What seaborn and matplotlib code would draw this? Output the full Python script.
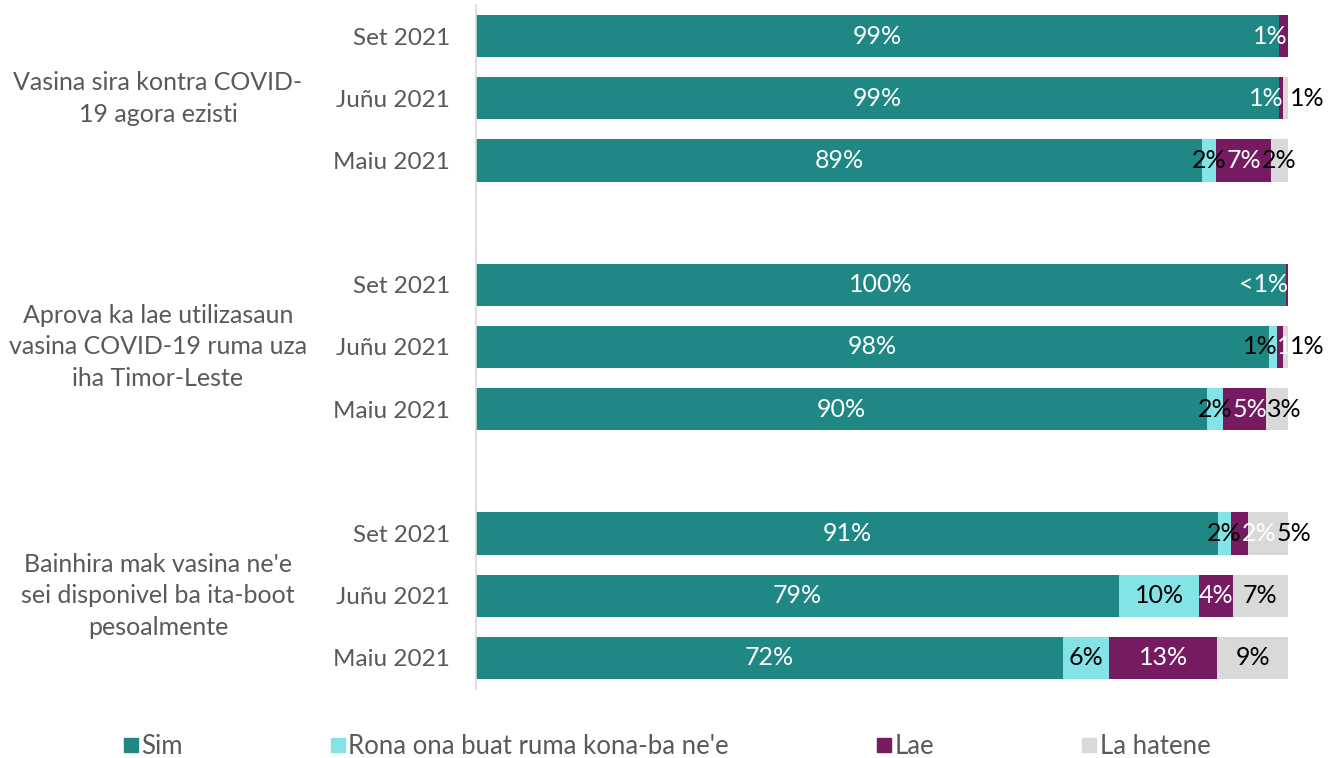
import seaborn as sns
import numpy as np
import matplotlib.pyplot as plt
import pandas as pd
from matplotlib.lines import Line2D
from matplotlib.transforms import blended_transform_factory

import warnings

warnings.filterwarnings("ignore")

# rows top to bottom, three survey rounds per question
row_labels = ["Set 2021", "Juñu 2021", "Maiu 2021"] * 3
row_pos = [0, 1, 2, 4, 5, 6, 8, 9, 10]

questions = [
    "Vasina sira kontra COVID-\n19 agora ezisti",
    "Aprova ka lae utilizasaun\nvasina COVID-19 ruma uza\niha Timor-Leste",
    "Bainhira mak vasina ne'e\nsei disponivel ba ita-boot\npesoalmente",
]

categories = ["Sim", "Rona ona buat ruma kona-ba ne'e", "Lae", "La hatene"]

sim = [98.9, 98.9, 89.4, 99.7, 97.7, 90.0, 91.4, 79.2, 72.3]
rona = [0.0, 0.0, 1.7, 0.0, 1.0, 2.0, 1.6, 9.9, 5.7]
lae = [1.1, 0.5, 6.8, 0.3, 0.7, 5.3, 2.1, 4.1, 13.3]
la_hatene = [0.0, 0.6, 2.1, 0.0, 0.6, 2.7, 4.9, 6.8, 8.7]

sim_lbl = ["99%", "99%", "89%", "100%", "98%", "90%", "91%", "79%", "72%"]
rona_lbl = ["", "", "2%", "", "1%", "2%", "2%", "10%", "6%"]
lae_lbl = ["1%", "1%", "7%", "<1%", "1%", "5%", "2%", "4%", "13%"]
lh_lbl = ["", "1%", "2%", "", "1%", "3%", "5%", "7%", "9%"]

colors = ["#1F8784", "#84E3E6", "#761A62", "#D9D9D9"]
text_colors = ["white", "black", "white", "black"]

if __name__ == "__main__":
    sns.set_theme(style="white")
    plt.rcParams["font.family"] = ["Lato", "DejaVu Sans"]

    values = np.array([sim, rona, lae, la_hatene])
    labels = [sim_lbl, rona_lbl, lae_lbl, lh_lbl]
    cum = values.cumsum(axis=0)

    df = pd.DataFrame(
        {
            "pos": np.tile(row_pos, 4),
            "cat": np.repeat(categories, len(row_pos)),
            "end": cum.ravel(),
        }
    )

    fig = plt.figure(figsize=(13.37, 7.58), dpi=100)
    ax = fig.add_axes([476 / 1337, 1 - 689 / 758, (1288 - 476) / 1337, (689 - 5) / 758])

    # stacked bars: draw cumulative ends from last to first
    for i in range(3, -1, -1):
        sub = df[df["cat"] == categories[i]]
        sns.barplot(
            data=sub, x="end", y="pos", orient="h", native_scale=True,
            color=colors[i], width=0.68, linewidth=0, saturation=1, ax=ax,
        )

    ax.set_xlim(0, 100)
    ax.set_ylim(10.5, -0.5)

    # segment labels
    row_texts = {p: [] for p in row_pos}
    for i in range(4):
        for j, p in enumerate(row_pos):
            txt = labels[i][j]
            if not txt:
                continue
            v = values[i, j]
            end = cum[i, j]
            if i == 3 and v < 1.5:
                x, ha, push = 100.3, "left", False
            elif v < 1.5:
                x, ha, push = end, "right", True
            else:
                x, ha, push = end - v / 2, "center", True
            t = ax.text(x, p, txt, ha=ha, va="center", fontsize=18,
                        color=text_colors[i], clip_on=False)
            if push:
                row_texts[p].append(t)

    # nudge neighbouring labels apart, left to right
    fig.canvas.draw()
    r = fig.canvas.get_renderer()
    px_per_unit = ax.transData.transform((1, 0))[0] - ax.transData.transform((0, 0))[0]
    for p, texts in row_texts.items():
        prev_right = None
        for t in texts:
            bb = t.get_window_extent(r)
            if prev_right is not None and bb.x0 < prev_right:
                shift = (prev_right - bb.x0) / px_per_unit
                t.set_x(t.get_position()[0] + shift)
                prev_right = bb.x1 + (prev_right - bb.x0)
            else:
                prev_right = bb.x1

    ax.set_xticks([])
    ax.set_yticks(row_pos)
    ax.set_yticklabels(row_labels, fontsize=17.5, color="#595959")
    ax.tick_params(axis="y", length=0, pad=18.5)
    ax.set_xlabel("")
    ax.set_ylabel("")
    for s in ["top", "right", "bottom"]:
        ax.spines[s].set_visible(False)
    ax.spines["left"].set_color("#D9D9D9")
    ax.spines["left"].set_linewidth(1.2)

    trans = blended_transform_factory(ax.transAxes, ax.transData)
    for k, q in enumerate(questions):
        ax.text((158 - 476) / 812, row_pos[3 * k + 1], q, transform=trans,
                ha="center", va="center", fontsize=18, color="#595959",
                linespacing=1.45)

    handles = [
        Line2D([0], [0], marker="s", linestyle="", markersize=9.5,
               markerfacecolor=c, markeredgecolor=c)
        for c in colors
    ]
    fig.legend(handles, categories, loc="center", bbox_to_anchor=(666 / 1337, 1 - 746 / 758),
               ncol=4, frameon=False, fontsize=18.5, labelcolor="#595959",
               handletextpad=0.05, columnspacing=5.7, handlelength=0.7)

    plt.savefig("out.png", dpi=100)
